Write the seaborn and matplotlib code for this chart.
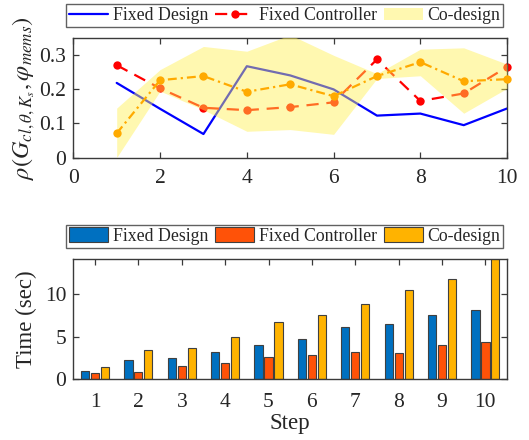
import numpy as np
import pandas as pd
import matplotlib
matplotlib.use("Agg")
import matplotlib.pyplot as plt
import seaborn as sns

# ---- data -------------------------------------------------------------
steps = [1, 2, 3, 4, 5, 6, 7, 8, 9, 10]

# correlation per step
rho_fixed_design = [0.219, 0.143, 0.069, 0.268, 0.241, 0.200, 0.123, 0.129, 0.095, 0.144]
rho_fixed_controller = [0.271, 0.203, 0.146, 0.139, 0.148, 0.162, 0.288, 0.166, 0.188, 0.266]
rho_codesign_mean = [0.071, 0.227, 0.239, 0.193, 0.215, 0.180, 0.239, 0.280, 0.224, 0.230]
rho_codesign_upper = [0.145, 0.258, 0.326, 0.312, 0.360, 0.300, 0.246, 0.318, 0.322, 0.274]
rho_codesign_lower = [0.000, 0.195, 0.140, 0.077, 0.082, 0.068, 0.232, 0.240, 0.130, 0.203]

# computation time per step (sec)
time_fixed_design = [0.98, 2.20, 2.48, 3.19, 3.98, 4.76, 6.10, 6.50, 7.56, 8.19]
time_fixed_controller = [0.71, 0.87, 1.50, 1.93, 2.64, 2.87, 3.19, 3.07, 3.98, 4.41]
time_codesign = [1.42, 3.39, 3.62, 4.96, 6.77, 7.56, 8.82, 10.47, 11.77, 14.60]

methods = ["Fixed Design", "Fixed Controller", "Co-design"]

# ---- style ------------------------------------------------------------
sns.set_theme(style="ticks")
plt.rcParams["font.family"] = ["Liberation Serif", "DejaVu Serif"]
plt.rcParams["mathtext.fontset"] = "stix"

TICK_FS = 15.5
LABEL_FS = 16.5
LEGEND_FS = 12.8
SPINE_COLOR = "#3a3a3a"

fig = plt.figure(figsize=(5.29, 4.40), dpi=100)
ax1 = fig.add_axes([0.1386, 0.642, 0.820, 0.271])
ax2 = fig.add_axes([0.1386, 0.1386, 0.820, 0.2727])

for ax in (ax1, ax2):
    for sp in ax.spines.values():
        sp.set_color(SPINE_COLOR)
        sp.set_linewidth(1.0)
    ax.tick_params(direction="in", top=True, right=True, length=4, width=0.9,
                   color=SPINE_COLOR, labelsize=TICK_FS, pad=5)
    ax.tick_params(axis="x", pad=8)

# ---- top panel: correlation ------------------------------------------
sns.lineplot(x=steps, y=rho_fixed_design, ax=ax1, color="#0000ff",
             linewidth=1.6, label="Fixed Design", zorder=2)
sns.lineplot(x=steps, y=rho_fixed_controller, ax=ax1, color="#ff0000",
             linewidth=1.6, linestyle=(0, (5.5, 3.5)), marker="o",
             markersize=6, markeredgewidth=0, label="Fixed Controller",
             zorder=2, clip_on=False)
ax1.fill_between(steps, rho_codesign_lower, rho_codesign_upper,
                 color="#fff050", alpha=0.45, linewidth=0, label="Co-design", zorder=3)
sns.lineplot(x=steps, y=rho_codesign_mean, ax=ax1, color="#ffaa00",
             linewidth=1.6, linestyle=(0, (4, 1.8, 1, 1.8)), marker="o",
             markersize=6, markeredgewidth=0, label="_nolegend_",
             zorder=4, clip_on=False)

ax1.set_xlim(0, 10)
ax1.set_ylim(0, 0.35)
ax1.set_xticks([0, 2, 4, 6, 8, 10])
ax1.set_yticks([0, 0.1, 0.2, 0.3])
ax1.set_yticklabels(["0", "0.1", "0.2", "0.3"])
ax1.set_xlabel("")
ax1.set_ylabel(r"$\rho(G_{cl,\theta,K_s},\varphi_{mems})$", fontsize=17.5, labelpad=2)

h, l = ax1.get_legend_handles_labels()
ax1.legend(h, l, loc="center", bbox_to_anchor=(0.487, 1.19), ncol=3,
           fontsize=LEGEND_FS, frameon=True, fancybox=False, edgecolor=SPINE_COLOR,
           handlelength=2.2, handletextpad=0.25, columnspacing=0.4,
           borderpad=0.15, borderaxespad=0)
ax1.get_legend().get_frame().set_linewidth(1.0)

# ---- bottom panel: time ----------------------------------------------
df = pd.DataFrame({
    "Step": steps * 3,
    "Method": [m for m in methods for _ in steps],
    "Time": time_fixed_design + time_fixed_controller + time_codesign,
})
palette = {"Fixed Design": "#0070c0", "Fixed Controller": "#ff5208", "Co-design": "#ffb300"}
sns.barplot(data=df, x="Step", y="Time", hue="Method", hue_order=methods,
            native_scale=True, palette=palette, saturation=1, width=0.69, gap=0.18,
            edgecolor="#404040", linewidth=0.8, errorbar=None, ax=ax2)

ax2.set_xlim(0.5, 10.5)
ax2.set_ylim(0, 14.15)
ax2.set_xticks(steps)
ax2.set_xticklabels([str(s) for s in steps])
ax2.set_yticks([0, 5, 10])
ax2.tick_params(axis="x", pad=10)
ax2.set_xlabel("Step", fontsize=LABEL_FS, labelpad=1)
ax2.set_ylabel("Time (sec)", fontsize=LABEL_FS, labelpad=6)

sns.move_legend(ax2, "center", bbox_to_anchor=(0.487, 1.19), ncol=3, title=None,
                fontsize=LEGEND_FS, frameon=True, fancybox=False, edgecolor=SPINE_COLOR,
                handlelength=2.2, handleheight=0.9, handletextpad=0.25, columnspacing=0.4,
                borderpad=0.15, borderaxespad=0)
ax2.get_legend().get_frame().set_linewidth(1.0)

fig.savefig("out.png", dpi=100)
